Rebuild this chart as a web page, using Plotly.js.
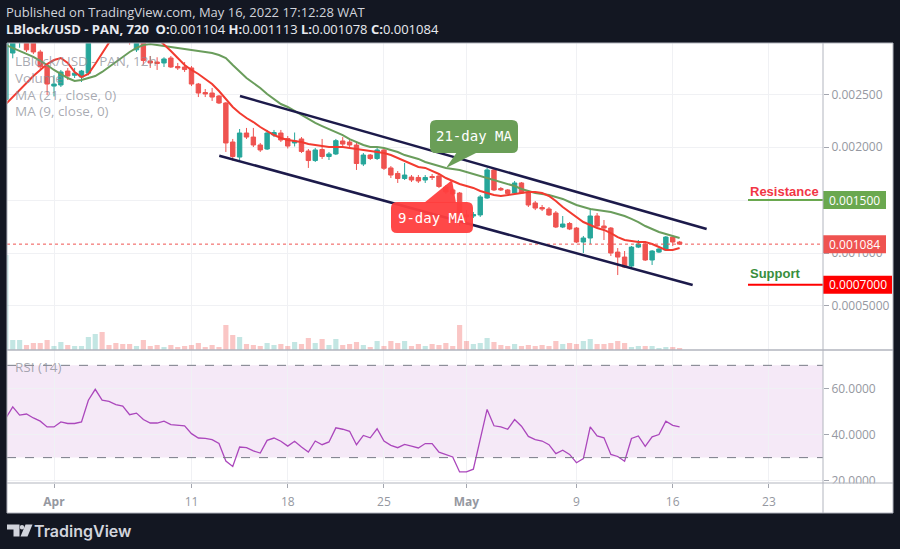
<!DOCTYPE html>
<html><head><meta charset="utf-8">
<script src="https://cdn.plot.ly/plotly-3.0.1.min.js"></script>
<style>html,body{margin:0;padding:0;background:#131722;}#chart{width:900px;height:549px;}</style>
</head><body><div id="chart"></div>
<script>
// 12h candles from 2022-03-28 12:00 to 2022-05-16 12:00
const firstBarUTC = Date.UTC(2022, 2, 28, 12);
const openP = [
0.002450,0.002890,0.002990,0.003030,0.002990,0.002900,0.002767,0.002578,0.002588,0.002720,
0.002680,0.002663,0.002700,0.003050,0.003250,0.003120,0.003110,0.003060,0.003040,0.002920,
0.003000,0.002815,0.002805,0.002796,0.002843,0.002763,0.002758,0.002749,0.002597,0.002517,
0.002512,0.002484,0.002418,0.002049,0.001907,0.002134,0.002096,0.002021,0.001983,0.002115,
0.002134,0.002082,0.002040,0.002078,0.001964,0.001874,0.001978,0.001912,0.001936,0.002059,
0.002049,0.002021,0.001841,0.001926,0.001893,0.001974,0.001804,0.001752,0.001704,0.001718,
0.001714,0.001690,0.001723,0.001728,0.001623,0.001596,0.001567,0.001360,0.001350,0.001360,
0.001520,0.001785,0.001610,0.001596,0.001567,0.001662,0.001567,0.001473,0.001430,0.001416,
0.001378,0.001246,0.001279,0.001236,0.001104,0.001142,0.001350,0.001255,0.001236,0.001009,
0.000962,0.000877,0.001056,0.001085,0.000934,0.001009,0.001028,0.001151,0.001104];
const highP = [
0.003300,0.003060,0.003080,0.003080,0.003020,0.002920,0.002780,0.002680,0.002730,0.002749,
0.002750,0.002730,0.003100,0.003350,0.003300,0.003180,0.003150,0.003120,0.003080,0.003060,
0.003030,0.002862,0.002850,0.002850,0.002862,0.002796,0.002805,0.002767,0.002607,0.002550,
0.002560,0.002493,0.002427,0.002078,0.002172,0.002182,0.002182,0.002040,0.002163,0.002163,
0.002163,0.002106,0.002139,0.002096,0.001983,0.001993,0.002078,0.001955,0.002078,0.002096,
0.002078,0.002040,0.001945,0.001936,0.001993,0.001993,0.001822,0.001775,0.001851,0.001737,
0.001737,0.001737,0.001747,0.001747,0.001643,0.001610,0.001577,0.001406,0.001388,0.001548,
0.001804,0.001794,0.001624,0.001605,0.001681,0.001671,0.001577,0.001492,0.001454,0.001435,
0.001397,0.001350,0.001293,0.001246,0.001161,0.001425,0.001378,0.001312,0.001246,0.001047,
0.001019,0.001066,0.001123,0.001095,0.001028,0.001047,0.001161,0.001170,0.001113];
const lowP = [
0.002430,0.002840,0.002940,0.002900,0.002880,0.002740,0.002493,0.002480,0.002569,0.002635,
0.002654,0.002616,0.002680,0.003000,0.003080,0.003050,0.003020,0.003000,0.002970,0.002900,
0.002780,0.002749,0.002730,0.002758,0.002749,0.002730,0.002711,0.002578,0.002474,0.002474,
0.002437,0.002408,0.001955,0.001874,0.001879,0.002078,0.002002,0.001955,0.001974,0.002096,
0.002049,0.001988,0.002007,0.001945,0.001804,0.001860,0.001889,0.001879,0.001926,0.002011,
0.002002,0.001785,0.001822,0.001879,0.001879,0.001785,0.001709,0.001662,0.001690,0.001671,
0.001662,0.001662,0.001690,0.001614,0.001558,0.001540,0.001255,0.001265,0.001331,0.001341,
0.001511,0.001586,0.001586,0.001558,0.001558,0.001558,0.001435,0.001406,0.001397,0.001350,
0.001236,0.001236,0.001217,0.001095,0.001000,0.001085,0.001236,0.001123,0.000972,0.000792,
0.000858,0.000867,0.001047,0.000925,0.000887,0.001000,0.001019,0.001066,0.001078];
const closeP = [
0.003100,0.003010,0.003030,0.002920,0.002900,0.002760,0.002597,0.002597,0.002711,0.002673,
0.002700,0.002720,0.003050,0.003250,0.003120,0.003110,0.003060,0.003040,0.002990,0.003020,
0.002820,0.002796,0.002791,0.002834,0.002758,0.002749,0.002734,0.002597,0.002512,0.002503,
0.002474,0.002418,0.002040,0.001912,0.002134,0.002096,0.002021,0.001974,0.002134,0.002139,
0.002068,0.002011,0.002059,0.001960,0.001874,0.001974,0.001912,0.001936,0.002062,0.002030,
0.002021,0.001846,0.001926,0.001893,0.001974,0.001801,0.001737,0.001704,0.001737,0.001690,
0.001681,0.001714,0.001714,0.001629,0.001577,0.001558,0.001378,0.001341,0.001364,0.001530,
0.001785,0.001596,0.001596,0.001563,0.001662,0.001567,0.001454,0.001425,0.001416,0.001360,
0.001246,0.001274,0.001227,0.001104,0.001142,0.001350,0.001255,0.001236,0.001000,0.000962,
0.000867,0.001056,0.001085,0.000934,0.001019,0.001038,0.001151,0.001104,0.001084];
const volume = [
95,10,10,5,7,7,10,4,8,5,
4,4,13,16,18,5,7,6,6,4,
10,4,5,3,5,3,4,5,7,3,
5,3,25,15,13,6,5,4,7,5,
6,4,8,6,12,7,11,5,11,5,
6,8,5,3,9,4,9,7,9,4,
6,4,6,5,7,4,25,9,6,7,
12,8,5,4,6,4,5,4,5,4,
9,6,7,6,9,11,6,6,7,9,
7,3,4,4,4,2,3,3,2];
const ma9 = [
0.002408,0.002475,0.002541,0.002607,0.002673,0.002730,0.002786,0.002824,0.002843,0.002796,
0.002711,0.002663,0.002692,0.002786,0.002890,0.002994,0.003089,0.003155,0.003183,0.003164,
0.003127,0.003089,0.003032,0.002975,0.002909,0.002843,0.002777,0.002730,0.002692,0.002645,
0.002597,0.002531,0.002456,0.002380,0.002323,0.002276,0.002238,0.002191,0.002153,0.002115,
0.002087,0.002068,0.002059,0.002049,0.002030,0.002021,0.002011,0.002002,0.002002,0.002002,
0.001993,0.001983,0.001974,0.001964,0.001955,0.001945,0.001926,0.001898,0.001870,0.001841,
0.001813,0.001804,0.001775,0.001747,0.001709,0.001681,0.001652,0.001633,0.001615,0.001586,
0.001567,0.001548,0.001539,0.001548,0.001558,0.001567,0.001577,0.001577,0.001567,0.001539,
0.001492,0.001435,0.001388,0.001340,0.001293,0.001265,0.001237,0.001218,0.001189,0.001151,
0.001123,0.001114,0.001104,0.001104,0.001085,0.001057,0.001029,0.001029,0.001048];
const ma21 = [
0.002966,0.002938,0.002909,0.002881,0.002853,0.002815,0.002777,0.002730,0.002692,0.002654,
0.002626,0.002635,0.002654,0.002673,0.002711,0.002758,0.002805,0.002853,0.002900,0.002938,
0.002966,0.002975,0.002966,0.002956,0.002947,0.002938,0.002928,0.002919,0.002909,0.002900,
0.002890,0.002871,0.002843,0.002777,0.002711,0.002654,0.002607,0.002560,0.002503,0.002456,
0.002408,0.002380,0.002342,0.002304,0.002266,0.002229,0.002200,0.002172,0.002144,0.002115,
0.002077,0.002049,0.002021,0.002002,0.002002,0.001993,0.001974,0.001955,0.001926,0.001908,
0.001889,0.001860,0.001841,0.001822,0.001804,0.001794,0.001785,0.001766,0.001747,0.001728,
0.001709,0.001690,0.001671,0.001652,0.001633,0.001605,0.001586,0.001567,0.001558,0.001548,
0.001530,0.001511,0.001482,0.001454,0.001435,0.001416,0.001407,0.001397,0.001388,0.001369,
0.001350,0.001322,0.001293,0.001255,0.001227,0.001199,0.001180,0.001161,0.001142];
const rsi14 = [
47.1,52.0,48.4,48.9,47.2,45.8,43.3,43.3,45.5,44.8,
44.8,45.5,54.9,59.6,54.9,54.4,53.0,52.3,48.6,49.3,
46.5,45.0,45.0,45.8,44.3,44.0,43.8,40.4,38.5,38.3,
37.8,36.1,28.5,26.2,34.6,34.3,32.9,32.0,37.5,38.5,
37.1,35.0,37.1,34.6,32.4,37.2,35.6,36.8,42.9,42.3,
41.4,35.6,39.6,38.6,42.5,37.2,35.3,34.3,35.7,35.0,
34.2,36.1,36.1,32.4,31.2,30.3,23.8,23.8,25.0,38.0,
50.9,43.8,43.3,42.3,46.5,43.6,39.2,37.8,37.2,35.6,
31.7,33.2,31.4,27.8,29.6,43.3,39.4,38.6,31.4,30.5,
28.4,38.3,39.4,34.9,39.0,40.0,45.8,44.0,43.3];

const xTickVals = ['2022-04-01','2022-04-11','2022-04-18','2022-04-25','2022-05-01','2022-05-09','2022-05-16','2022-05-23'];
const xTickText = ['<b>Apr</b>','11','18','25','<b>May</b>','9','16','23'];
const priceTickVals = [0.0005,0.001,0.0015,0.002,0.0025];
const priceTickText = ['0.0005000','0.001000','0.001500','0.002000','0.002500'];
const rsiTickVals = [20,40,60];
const rsiTickText = ['20.0000','40.0000','60.0000'];
const channelUpperX = ['2022-04-14 12:39','2022-05-18 11:15'];
const channelUpperY = [0.002484,0.001227];
const channelLowerX = ['2022-04-13 00:29','2022-05-17 10:50'];
const channelLowerY = [0.001920,0.000698];
const resistanceLevel = 0.0015;
const supportLevel = 0.0007;
const lastPrice = 0.001084;

const W = 900, H = 549;
const px = x => x / W, py = y => 1 - y / H;
const dates = openP.map((_, i) => new Date(firstBarUTC + i * 43200000).toISOString().slice(0, 16).replace('T', ' '));
const UP = '#26a69a', DOWN = '#ef5350';
const volColors = closeP.map((c, i) => c >= openP[i] ? 'rgba(38,166,154,0.28)' : 'rgba(239,83,80,0.33)');
const AX = '#a3a6af';
const GRID = '#f0f1f4';
const TICKC = '#9598a1';

const traces = [
  {type:'bar', x:dates, y:volume, xaxis:'x', yaxis:'y', marker:{color:volColors, line:{width:0}}, hoverinfo:'skip'},
  {type:'candlestick', x:dates, open:openP, high:highP, low:lowP, close:closeP, xaxis:'x', yaxis:'y3',
   increasing:{line:{color:UP, width:1}, fillcolor:UP}, decreasing:{line:{color:DOWN, width:1}, fillcolor:DOWN}, whiskerwidth:0},
  {type:'scatter', mode:'lines', x:dates, y:ma21, xaxis:'x', yaxis:'y3', line:{color:'#6a9d5c', width:2}},
  {type:'scatter', mode:'lines', x:dates, y:ma9, xaxis:'x', yaxis:'y3', line:{color:'#f23b30', width:2}},
  {type:'scatter', mode:'lines', x:dates, y:rsi14, xaxis:'x', yaxis:'y2', line:{color:'#ab47bc', width:1.3}}
];

function rr(x0, y0, x1, y1, r) {
  const X = px, Y = py;
  return `M${X(x0+r)},${Y(y0)} L${X(x1-r)},${Y(y0)} Q${X(x1)},${Y(y0)} ${X(x1)},${Y(y0+r)} L${X(x1)},${Y(y1-r)} Q${X(x1)},${Y(y1)} ${X(x1-r)},${Y(y1)} L${X(x0+r)},${Y(y1)} Q${X(x0)},${Y(y1)} ${X(x0)},${Y(y1-r)} L${X(x0)},${Y(y0+r)} Q${X(x0)},${Y(y0)} ${X(x0+r)},${Y(y0)} Z`;
}
function poly(pts) { return 'M' + pts.map(p => `${px(p[0])},${py(p[1])}`).join(' L') + ' Z'; }

const shapes = [
  {type:'rect', xref:'paper', yref:'paper', x0:px(7), x1:px(893), y0:py(513), y1:py(43), fillcolor:'#ffffff', line:{width:0}, layer:'below'},
  {type:'rect', xref:'paper', yref:'y2', x0:px(7), x1:px(823), y0:30, y1:70, fillcolor:'rgba(156,39,176,0.10)', line:{width:0}, layer:'below'},
  {type:'line', xref:'paper', yref:'y2', x0:px(7), x1:px(823), y0:70, y1:70, line:{color:'#787b86', width:1, dash:'dash'}},
  {type:'line', xref:'paper', yref:'y2', x0:px(7), x1:px(823), y0:30, y1:30, line:{color:'#787b86', width:1, dash:'dash'}},
  {type:'line', xref:'paper', yref:'y3', x0:px(7), x1:px(823), y0:lastPrice, y1:lastPrice, line:{color:'#ef5350', width:1, dash:'dot'}},
  {type:'line', xref:'x', yref:'y3', x0:channelUpperX[0], x1:channelUpperX[1], y0:channelUpperY[0], y1:channelUpperY[1], line:{color:'#1c1a4a', width:2.5}},
  {type:'line', xref:'x', yref:'y3', x0:channelLowerX[0], x1:channelLowerX[1], y0:channelLowerY[0], y1:channelLowerY[1], line:{color:'#1c1a4a', width:2.5}},
  {type:'line', xref:'paper', yref:'y3', x0:px(748), x1:px(823), y0:resistanceLevel, y1:resistanceLevel, line:{color:'#6aa84f', width:2}},
  {type:'line', xref:'paper', yref:'y3', x0:px(748), x1:px(823), y0:supportLevel, y1:supportLevel, line:{color:'#ff0000', width:2}},
  // callouts
  {type:'path', xref:'paper', yref:'paper', path:poly([[457,152],[478,152],[446,168]]), fillcolor:'#6a9e57', line:{width:0}},
  {type:'path', xref:'paper', yref:'paper', path:rr(430,120,518,153,6), fillcolor:'#6a9e57', line:{width:0}},
  {type:'path', xref:'paper', yref:'paper', path:poly([[424,203],[456,203],[452,180]]), fillcolor:'rgba(255,62,62,0.95)', line:{width:0}},
  {type:'path', xref:'paper', yref:'paper', path:rr(391,202,473,233,6), fillcolor:'rgba(255,62,62,0.95)', line:{width:0}},
  // price boxes
  {type:'rect', xref:'paper', yref:'y3', ysizemode:'pixel', yanchor:resistanceLevel, y0:-9, y1:9, x0:px(823), x1:px(886), fillcolor:'#6aa84f', line:{width:0}},
  {type:'rect', xref:'paper', yref:'y3', ysizemode:'pixel', yanchor:lastPrice, y0:-9, y1:9, x0:px(823), x1:px(886), fillcolor:'#ef5350', line:{width:0}},
  {type:'rect', xref:'paper', yref:'y3', ysizemode:'pixel', yanchor:supportLevel, y0:-9, y1:9, x0:px(823), x1:px(892), fillcolor:'#ff0000', line:{width:0}},
  // cover bottom-right corner
  {type:'rect', xref:'paper', yref:'paper', x0:px(823.5), x1:px(892.5), y0:py(512.5), y1:py(483.5), fillcolor:'#ffffff', line:{width:0}},
  // pane lines
  {type:'line', xref:'paper', yref:'paper', x0:px(7), x1:px(893), y0:py(350), y1:py(350), line:{color:'#b2b5be', width:1.5}},
  {type:'line', xref:'paper', yref:'paper', x0:px(7), x1:px(893), y0:py(483), y1:py(483), line:{color:'#b2b5be', width:1}},
  {type:'line', xref:'paper', yref:'paper', x0:px(823), x1:px(823), y0:py(43), y1:py(513), line:{color:'#b2b5be', width:1}},
  {type:'rect', xref:'paper', yref:'paper', x0:px(7), x1:px(893), y0:py(513), y1:py(43), line:{color:'#b2b5be', width:1}},
  // logo
  {type:'path', xref:'paper', yref:'paper', path:poly([[7,524.5],[19.5,524.5],[19.5,536.5],[13.5,536.5],[13.5,529.5],[7,529.5]]), fillcolor:'#d1d4dc', line:{width:0}},
  {type:'circle', xref:'paper', yref:'paper', x0:px(19.8), x1:px(24.2), y0:py(525), y1:py(529.4), fillcolor:'#d1d4dc', line:{width:0}},
  {type:'path', xref:'paper', yref:'paper', path:poly([[25.5,524.5],[32.5,524.5],[27.5,536.5],[20.5,536.5]]), fillcolor:'#d1d4dc', line:{width:0}}
];

const legendFont = {family:'Open Sans', size:13.5, color:'rgba(135,138,148,0.72)'};
function ann(x, y, text, font, extra) {
  return Object.assign({xref:'paper', yref:'paper', x:px(x), y:py(y), text:text, showarrow:false, xanchor:'left', yanchor:'middle', borderpad:0, font:font}, extra || {});
}
const annotations = [
  ann(5, 12, 'Published on TradingView.com, May 16, 2022 17:12:28 WAT', {family:'Open Sans', size:13, color:'#d1d4dc'}),
  ann(5, 29.5, '<b>LBlock/USD - PAN, 720</b>  <b>O:</b>0.001104 <b>H:</b>0.001113 <b>L:</b>0.001078 <b>C:</b>0.001084', {family:'Open Sans', size:13, color:'#e8eaf0'}),
  ann(14, 61, 'LBlock/USD - PAN, 12h', legendFont),
  ann(14, 78, 'Volume', legendFont),
  ann(14, 95, 'MA (21, close, 0)', legendFont),
  ann(14, 111.5, 'MA (9, close, 0)', legendFont),
  ann(14, 367, 'RSI (14)', legendFont),
  ann(474, 136.5, '21-day MA', {family:'DejaVu Sans Mono', size:14, color:'#ffffff'}, {xanchor:'center'}),
  ann(432, 217.5, '9-day MA', {family:'DejaVu Sans Mono', size:14, color:'#ffffff'}, {xanchor:'center'}),
  ann(749, 191, '<b>Resistance</b>', {family:'Liberation Sans', size:13, color:'#f23645'}),
  ann(749, 273, '<b>Support</b>', {family:'Liberation Sans', size:13, color:'#388e3c'}),
  {xref:'paper', yref:'y3', x:px(854.5), y:resistanceLevel, text:'0.001500', showarrow:false, xanchor:'center', yanchor:'middle', font:{family:'Open Sans', size:12, color:'#ffffff'}},
  {xref:'paper', yref:'y3', x:px(854.5), y:lastPrice, text:'0.001084', showarrow:false, xanchor:'center', yanchor:'middle', font:{family:'Open Sans', size:12, color:'#ffffff'}},
  {xref:'paper', yref:'y3', x:px(857.5), y:supportLevel, text:'0.0007000', showarrow:false, xanchor:'center', yanchor:'middle', font:{family:'Open Sans', size:12, color:'#ffffff'}},
  ann(33, 530.5, 'TradingView', {family:'Inter', size:16, color:'#d1d4dc', weight:600})
];

const layout = {
  width:W, height:H, margin:{l:0, r:0, t:0, b:0},
  paper_bgcolor:'#131722', plot_bgcolor:'#ffffff', showlegend:false,
  bargap:0.25, boxgap:0.2, boxgroupgap:0.2, hovermode:false,
  font:{family:'Open Sans', size:12, color:TICKC},
  xaxis:{domain:[px(7), px(823)], anchor:'y2', type:'date', range:['2022-03-28 13:58','2022-05-26 22:19'],
    tickmode:'array', tickvals:xTickVals, ticktext:xTickText, tickfont:{family:'Open Sans', size:12, color:TICKC},
    ticks:'outside', ticklen:4, tickcolor:AX, ticklabelstandoff:4, showgrid:true, gridcolor:GRID, gridwidth:1,
    zeroline:false, showline:false, rangeslider:{visible:false}, fixedrange:true},
  yaxis:{domain:[py(350), py(43)], range:[0, 307], visible:false, fixedrange:true, showgrid:false},
  yaxis3:{overlaying:'y', anchor:'x', side:'right', range:[0.0000836, 0.0029848],
    tickmode:'array', tickvals:priceTickVals, ticktext:priceTickText, tickfont:{family:'Open Sans', size:12, color:TICKC},
    ticks:'outside', ticklen:5, tickcolor:AX, showgrid:true, gridcolor:GRID, zeroline:false, showline:false, fixedrange:true},
  yaxis2:{domain:[py(483), py(350)], anchor:'x', side:'right', range:[19.0, 76.65],
    tickmode:'array', tickvals:rsiTickVals, ticktext:rsiTickText, tickfont:{family:'Open Sans', size:12, color:TICKC},
    ticks:'outside', ticklen:5, tickcolor:AX, showgrid:true, gridcolor:GRID, zeroline:false, showline:false, fixedrange:true},
  shapes:shapes,
  annotations:annotations
};

Plotly.newPlot('chart', traces, layout, {staticPlot:true, displayModeBar:false});
</script>
</body></html>
